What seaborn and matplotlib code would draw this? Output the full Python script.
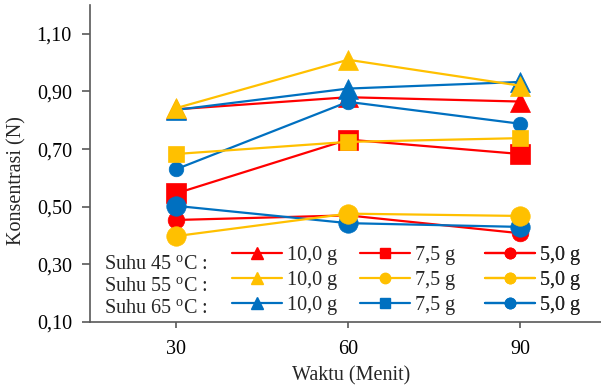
import numpy as np
import pandas as pd
import matplotlib
matplotlib.use('Agg')
import matplotlib.pyplot as plt
from matplotlib.lines import Line2D
from matplotlib.ticker import FuncFormatter
import seaborn as sns

waktu = [30, 60, 90]

# suhu 45 C
s45_10 = [0.838, 0.880, 0.865]
s45_75 = [0.546, 0.733, 0.683]
s45_50 = [0.454, 0.470, 0.408]
# suhu 55 C
s55_10 = [0.842, 1.010, 0.920]
s55_75 = [0.683, 0.725, 0.738]
s55_50 = [0.398, 0.476, 0.468]
# suhu 65 C
s65_10 = [0.836, 0.910, 0.933]
s65_75 = [0.630, 0.864, 0.788]
s65_50 = [0.503, 0.443, 0.430]

yticks = [0.10, 0.30, 0.50, 0.70, 0.90, 1.10]
row_labels = ['Suhu 45 $^{\\mathrm{o}}$C :', 'Suhu 55 $^{\\mathrm{o}}$C :', 'Suhu 65 $^{\\mathrm{o}}$C :']
massa = ['10,0 g', '7,5 g', '5,0 g']

merah = '#FF0000'
kuning = '#FFC000'
biru = '#0070C0'

sns.set_theme(style='white')
plt.rcParams['font.family'] = ['Liberation Serif', 'DejaVu Serif']
plt.rcParams['mathtext.fontset'] = 'custom'
plt.rcParams['mathtext.rm'] = 'Liberation Serif'

fs = 14.5
fig = plt.figure(figsize=(6.01, 3.85), dpi=100)
ax = fig.add_axes([90 / 601, 63 / 385, 516 / 601, 317 / 385])

# (data, warna, marker, ukuran) -- urutan gambar: merah, biru, kuning
seri = [
    (s45_10, merah, '^', 14), (s45_75, merah, 's', 14), (s45_50, merah, 'o', 12),
    (s65_10, biru, '^', 14), (s65_75, biru, 'o', 10.5), (s65_50, biru, 'o', 14),
    (s55_10, kuning, '^', 14), (s55_75, kuning, 's', 11), (s55_50, kuning, 'o', 14),
]
for vals, c, m, ms in seri:
    df = pd.DataFrame({'Waktu': waktu, 'Konsentrasi': vals})
    sns.lineplot(data=df, x='Waktu', y='Konsentrasi', ax=ax, color=c, marker=m,
                 markersize=ms, markeredgecolor=c, markeredgewidth=0.5,
                 linewidth=1.6, legend=False)

ax.set_xlim(15, 105)
ax.set_ylim(0.1, 1.2)
ax.set_xticks(waktu)
ax.set_yticks(yticks)
ax.yaxis.set_major_formatter(FuncFormatter(lambda v, p: f'{v:.2f}'.replace('.', ',')))

for s in ['top', 'right']:
    ax.spines[s].set_visible(False)
for s in ['left', 'bottom']:
    ax.spines[s].set_color('#595959')
    ax.spines[s].set_linewidth(1.2)
ax.tick_params(axis='y', which='major', left=True, length=6, width=1.2, color='#595959',
               labelsize=fs, pad=7, labelcolor='black')
ax.tick_params(axis='x', which='major', bottom=True, length=4, width=1.2, color='#595959',
               labelsize=fs, pad=9, labelcolor='black')

ax.set_xlabel('Waktu (Menit)', fontsize=fs)
ax.set_ylabel('Konsentrasi (N)', fontsize=fs)
ax.xaxis.set_label_coords((351 - 90) / 516, (322 - 366) / 317)
ax.yaxis.set_label_coords((26 - 90) / 516, (322 - 181) / 317)

# legenda: satu legenda per kolom
kolom = [
    [(merah, '^'), (kuning, '^'), (biru, '^')],
    [(merah, 's'), (kuning, 'o'), (biru, 's')],
    [(merah, 'o'), (kuning, 'o'), (biru, 'o')],
]
kiri = [232, 360, 485]
for j, isi in enumerate(kolom):
    handles = [Line2D([], [], color=c, marker=m, markersize=8 if m == '^' else 7.5,
                      linewidth=1.6) for c, m in isi]
    leg = ax.legend(handles, [massa[j]] * 3, loc='upper left',
                    bbox_to_anchor=(kiri[j] / 601, (385 - 246) / 385),
                    bbox_transform=fig.transFigure, frameon=False, fontsize=fs,
                    handlelength=2.5, handletextpad=0.25, labelspacing=0.3,
                    borderpad=0, borderaxespad=0)
    ax.add_artist(leg)

for i, t in enumerate(row_labels):
    fig.text(104 / 601, 1 - (265 + 22 * i) / 385, t, fontsize=fs, va='center', ha='left')

fig.savefig('out.png', dpi=100)
